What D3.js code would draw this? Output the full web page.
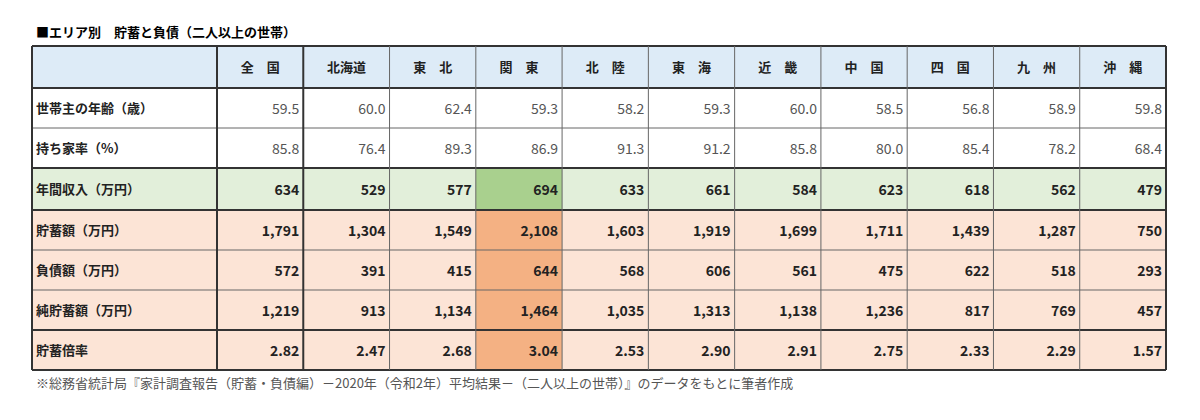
<!DOCTYPE html><html><head><meta charset="utf-8"><script src="https://cdn.jsdelivr.net/npm/d3@7"></script>
<style>body{margin:0;background:#fff}text{font-family:"Noto Sans CJK JP",sans-serif}</style></head><body><svg id="c" width="1200" height="420"></svg>
<script>
const title="■エリア別　貯蓄と負債（二人以上の世帯）";
const footnote="※総務省統計局『家計調査報告（貯蓄・負債編）－2020年（令和2年）平均結果－（二人以上の世帯）』のデータをもとに筆者作成";
const regions=["全　国","北海道","東　北","関　東","北　陸","東　海","近　畿","中　国","四　国","九　州","沖　縄"];
const rowLabels=["世帯主の年齢（歳）","持ち家率（%）","年間収入（万円）","貯蓄額（万円）","負債額（万円）","純貯蓄額（万円）","貯蓄倍率"];
const age=["59.5","60.0","62.4","59.3","58.2","59.3","60.0","58.5","56.8","58.9","59.8"];
const home=["85.8","76.4","89.3","86.9","91.3","91.2","85.8","80.0","85.4","78.2","68.4"];
const income=["634","529","577","694","633","661","584","623","618","562","479"];
const savings=["1,791","1,304","1,549","2,108","1,603","1,919","1,699","1,711","1,439","1,287","750"];
const debt=["572","391","415","644","568","606","561","475","622","518","293"];
const net=["1,219","913","1,134","1,464","1,035","1,313","1,138","1,236","817","769","457"];
const ratio=["2.82","2.47","2.68","3.04","2.53","2.90","2.91","2.75","2.33","2.29","1.57"];
const rows=[age,home,income,savings,debt,net,ratio];
const svg=d3.select("#c");
const x0=32,xL=217,x1=1166;
const x=d3.scaleBand().domain(d3.range(regions.length)).range([xL,x1]);
const rowH=[42,40,40,42,40,40,40,40];
const yStarts=[46];rowH.forEach(h=>yStarts.push(yStarts[yStarts.length-1]+h));
const y=i=>yStarts[i+1], h=i=>rowH[i+1];
const bgRow=i=>i<2?"#ffffff":i==2?"#e2efda":"#fce4d6";
const bgHi=i=>i<2?"#ffffff":i==2?"#a9d08e":"#f4b183";
svg.append("text").attr("x",36).attr("y",37).attr("font-size",13).attr("font-weight","bold").text(title);
// header
svg.append("rect").attr("x",x0).attr("y",46).attr("width",x1-x0).attr("height",42).attr("fill","#ddebf7");
svg.selectAll(".hd").data(regions).join("text").attr("x",(d,i)=>x(i)+x.bandwidth()/2).attr("y",72)
 .attr("text-anchor","middle").attr("font-size",13).attr("font-weight","bold").attr("fill","#222").text(d=>d);
rows.forEach((r,i)=>{
 svg.append("rect").attr("x",x0).attr("y",y(i)).attr("width",x1-x0).attr("height",h(i)).attr("fill",bgRow(i));
 svg.append("rect").attr("x",x(3)).attr("y",y(i)).attr("width",x.bandwidth()).attr("height",h(i)).attr("fill",bgHi(i));
 svg.append("text").attr("x",36).attr("y",y(i)+h(i)/2+5).attr("font-size",13).attr("font-weight","bold").attr("fill","#222").text(rowLabels[i]);
 svg.selectAll(null).data(r).join("text").attr("x",(d,j)=>x(j)+x.bandwidth()-4).attr("y",y(i)+h(i)/2+6)
  .attr("text-anchor","end").attr("font-size",14).attr("font-weight",i<2?"normal":"bold").attr("fill",i<2?"#555":"#222").text(d=>d);
});
const yEnd=yStarts[yStarts.length-1];
// horizontal lines
yStarts.forEach((yy,k)=>{const thick=[0,1,3,4,7,8].includes(k);
 svg.append("line").attr("x1",x0).attr("x2",x1).attr("y1",yy).attr("y2",yy).attr("stroke",thick?"#333":"#666").attr("stroke-width",thick?2:1);});
// vertical lines
const vx=[x0,xL,...d3.range(1,regions.length).map(j=>x(j)),x1];
vx.forEach((xx,k)=>{const thick=k<=2||k==vx.length-1;
 svg.append("line").attr("x1",xx).attr("x2",xx).attr("y1",46).attr("y2",yEnd).attr("stroke",thick?"#333":"#666").attr("stroke-width",thick?2:1);});
svg.append("text").attr("x",36).attr("y",388).attr("font-size",13).attr("fill","#555").text(footnote);
</script></body></html>
